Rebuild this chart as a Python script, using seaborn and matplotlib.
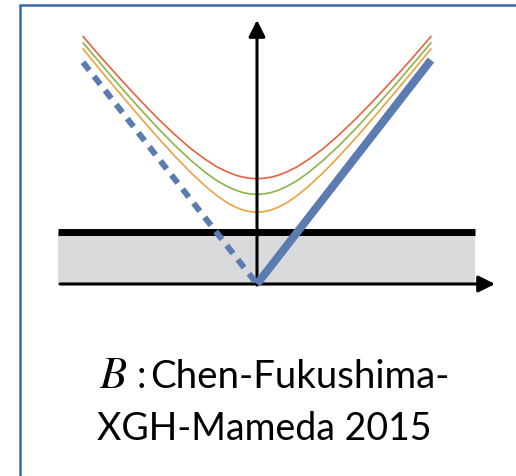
import matplotlib
matplotlib.use("Agg")
import matplotlib.pyplot as plt
from matplotlib.patches import Rectangle
import pandas as pd
import seaborn as sns

# Momentum values along one branch (the dispersion curves are even in p)
p_branch = [0.0, 0.04, 0.08, 0.12, 0.17, 0.23, 0.30, 0.38, 0.47, 0.57, 0.68, 0.80, 0.90, 1.00]
energy_high = [0.470, 0.472, 0.477, 0.485, 0.500, 0.523, 0.558, 0.604, 0.665, 0.739, 0.827, 0.928, 1.015, 1.105]
energy_mid = [0.400, 0.402, 0.408, 0.418, 0.435, 0.461, 0.500, 0.552, 0.617, 0.696, 0.789, 0.894, 0.985, 1.077]
energy_low = [0.320, 0.323, 0.330, 0.342, 0.362, 0.394, 0.439, 0.497, 0.569, 0.654, 0.752, 0.862, 0.955, 1.050]
branch_names = ["high", "mid", "low"]
branch_colors = ["#e8613d", "#8db44b", "#eba23f"]

# Massless mode: dashed branch on the left, solid branch on the right
light_p_left = [-1.0, 0.0]
light_E_left = [0.99, 0.0]
light_p_right = [0.0, 1.0]
light_E_right = [0.0, 1.0]

# Shaded band and its upper edge
band_p = [-1.144, 1.253]
band_top = 0.23

caption_label = "B"
caption_line1 = "Chen-Fukushima-"
caption_line2 = "XGH-Mameda 2015"

W, H = 516, 476
ORIGIN_X, ORIGIN_Y = 257, 284   # pixel position of the origin
SX, SY = 174, 224               # pixels per unit along p and E

sns.set_theme(style="white")
plt.rcParams["mathtext.fontset"] = "stix"

fig = plt.figure(figsize=(W / 100, H / 100), dpi=100)
ax = fig.add_axes([0, 0, 1, 1])
ax.set_xlim(-ORIGIN_X / SX, (W - ORIGIN_X) / SX)
ax.set_ylim(-(H - ORIGIN_Y) / SY, ORIGIN_Y / SY)
ax.set_axis_off()

# Frame around the panel
frame = Rectangle((19.5 / W, -0.002), 1.2, 1 - 5.3 / H + 0.002, transform=ax.transAxes,
                  fill=False, edgecolor="#3f66a6", lw=1.8, zorder=0)
ax.add_patch(frame)

# Shaded band with thick upper edge
ax.fill_between(band_p, 0.0, band_top, color="#d9dadc", lw=0, zorder=1)
ax.plot(band_p, [band_top, band_top], color="black", lw=5.0, solid_capstyle="butt", zorder=2)

# Dispersion curves
rows = []
for name, energies in zip(branch_names, [energy_high, energy_mid, energy_low]):
    for p, e in zip(p_branch, energies):
        rows.append({"p": p, "E": e, "branch": name})
        if p > 0:
            rows.append({"p": -p, "E": e, "branch": name})
curves = pd.DataFrame(rows)
sns.lineplot(data=curves, x="p", y="E", hue="branch", hue_order=branch_names,
             palette=branch_colors, estimator=None, legend=False, lw=1.2, ax=ax, zorder=3)

# Axes with arrowheads
arrow = dict(arrowstyle="-|>,head_length=0.5,head_width=0.25", lw=2.2, color="black",
             shrinkA=0, shrinkB=0, mutation_scale=20)
ax.annotate("", xy=((495 - ORIGIN_X) / SX, 0), xytext=((60 - ORIGIN_X) / SX, 0),
            arrowprops=arrow, zorder=4)
ax.annotate("", xy=(0, (ORIGIN_Y - 20) / SY), xytext=(0, -0.005),
            arrowprops=arrow, zorder=4)

# Massless mode
blue = "#5b7bb1"
sns.lineplot(x=light_p_left, y=light_E_left, color=blue, lw=4.3,
             linestyle=(0, (1.7, 1.3)), dash_capstyle="butt", ax=ax, zorder=5)
sns.lineplot(x=light_p_right, y=light_E_right, color=blue, lw=5.8,
             solid_capstyle="butt", ax=ax, zorder=5)

# Caption
ax.text(99 / W, 1 - 388 / H, "$" + caption_label + "$", transform=ax.transAxes,
        fontsize=32, va="baseline", ha="left", color="black")
ax.text(137 / W, 1 - 388 / H, ":", transform=ax.transAxes, family="Lato",
        fontsize=27.5, va="baseline", ha="left", color="black")
ax.text(150 / W, 1 - 388 / H, caption_line1, transform=ax.transAxes, family="Lato",
        fontsize=27.6, va="baseline", ha="left", color="black")
ax.text(97 / W, 1 - 440 / H, caption_line2, transform=ax.transAxes, family="Lato",
        fontsize=27.0, va="baseline", ha="left", color="black")

fig.savefig("out.png", dpi=100)
